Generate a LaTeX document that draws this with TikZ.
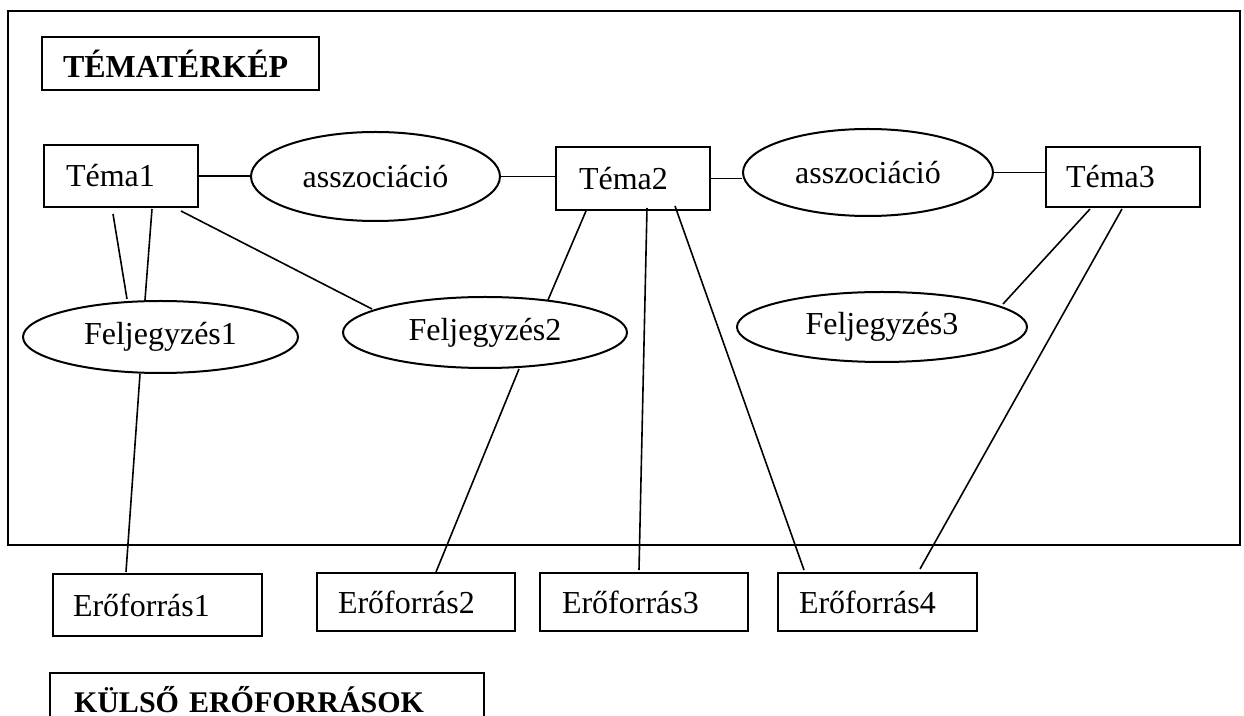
\documentclass[tikz,border=0pt]{standalone}
\usepackage{fontspec}
\setmainfont{Liberation Serif}
\usetikzlibrary{shapes.geometric,calc}
\tikzset{
  base/.style={font=\fontsize{16}{19}\selectfont, inner ysep=0pt, line width=1pt},
  boxnode/.style={base, draw, rectangle, anchor=north west, align=left},
  ellnode/.style={base, draw, ellipse, inner sep=0pt},
  titlenode/.style={boxnode, font=\fontsize{16}{19}\selectfont\bfseries},
  link/.style={line width=0.8pt}
}
\begin{document}
\begin{tikzpicture}[x=0.5pt, y=-0.5pt]
\useasboundingbox (0,0) rectangle (1244,716);
\clip (0,0) rectangle (1244,716);
\draw[line width=1pt] (8,11) rectangle (1240,545);

\node[titlenode, minimum height=26.5pt, inner xsep=10.5pt, text width=117.5pt] (title) at (41,36) {TÉMATÉRKÉP};

\node[boxnode, minimum height=31pt, inner xsep=11pt, text width=55pt] (t1) at (43,144) {Téma1};
\node[boxnode, minimum height=31.5pt, inner xsep=11.5pt, text width=54pt] (t2) at (555,146) {Téma2};
\node[boxnode, minimum height=30pt, inner xsep=10pt, text width=57pt] (t3) at (1045,146) {Téma3};

\node[ellnode, minimum width=124.5pt, minimum height=44.5pt] (a1) at (375.5,176.5) {asszociáció};
\node[ellnode, minimum width=125pt, minimum height=43.5pt] (a2) at (868,172.5) {asszociáció};

\node[ellnode, minimum width=137.5pt, minimum height=36pt] (f1) at (160.5,337) {Feljegyzés1};
\node[ellnode, minimum width=142pt, minimum height=35.5pt] (f2) at (485,332.5) {Feljegyzés2};
\node[ellnode, minimum width=145pt, minimum height=35pt] (f3) at (882,327) {Feljegyzés3};

\node[boxnode, minimum height=31pt, inner xsep=10pt, text width=84.5pt] (e1) at (52,573) {Erőforrás1};
\node[boxnode, minimum height=29pt, inner xsep=10.5pt, text width=78pt] (e2) at (316,572) {Erőforrás2};
\node[boxnode, minimum height=29pt, inner xsep=11pt, text width=82pt] (e3) at (539,572) {Erőforrás3};
\node[boxnode, minimum height=29pt, inner xsep=10.5pt, text width=78.5pt] (e4) at (777,572) {Erőforrás4};

\node[titlenode, font=\fontsize{15}{18}\selectfont\bfseries, minimum height=27pt, inner xsep=12pt, text width=193pt] (k) at (49,672) {KÜLSŐ ERŐFORRÁSOK};

% connectors
\draw[link] (t1.east) -- (t1.east -| a1.west);
\draw[link] (a1.east) -- (a1.east -| t2.west);
\draw[link] (t2.east) -- (t2.east -| a2.west);
\draw[link] (a2.east) -- (a2.east -| t3.west);

\draw[link] ([shift={(70,6)}]t1.south west) -- ([shift={(-33.5,-38)}]f1.center);
\draw[link] ([shift={(109,1)}]t1.south west) -- ([shift={(-15.5,-37)}]f1.center);
\draw[link] ([shift={(138,3)}]t1.south west) -- ([shift={(-113,-23.5)}]f2.center);
\draw[link] ([shift={(-20.5,0)}]f1.south) -- ([shift={(74,-1)}]e1.north west);

\draw[link] ([shift={(31,0)}]t2.south west) -- ([shift={(63,-32.5)}]f2.center);
\draw[link] ([shift={(34,36.5)}]f2.center) -- ([shift={(120,0)}]e2.north west);
\draw[link] ([shift={(92,-3)}]t2.south west) -- ([shift={(100,-2)}]e3.north west);
\draw[link] ([shift={(120,-5)}]t2.south west) -- ([shift={(27,-2)}]e4.north west);

\draw[link] ([shift={(45,1)}]t3.south west) -- ([shift={(121,-23)}]f3.center);
\draw[link] ([shift={(77,1)}]t3.south west) -- ([shift={(143,-3)}]e4.north west);
\end{tikzpicture}
\end{document}
